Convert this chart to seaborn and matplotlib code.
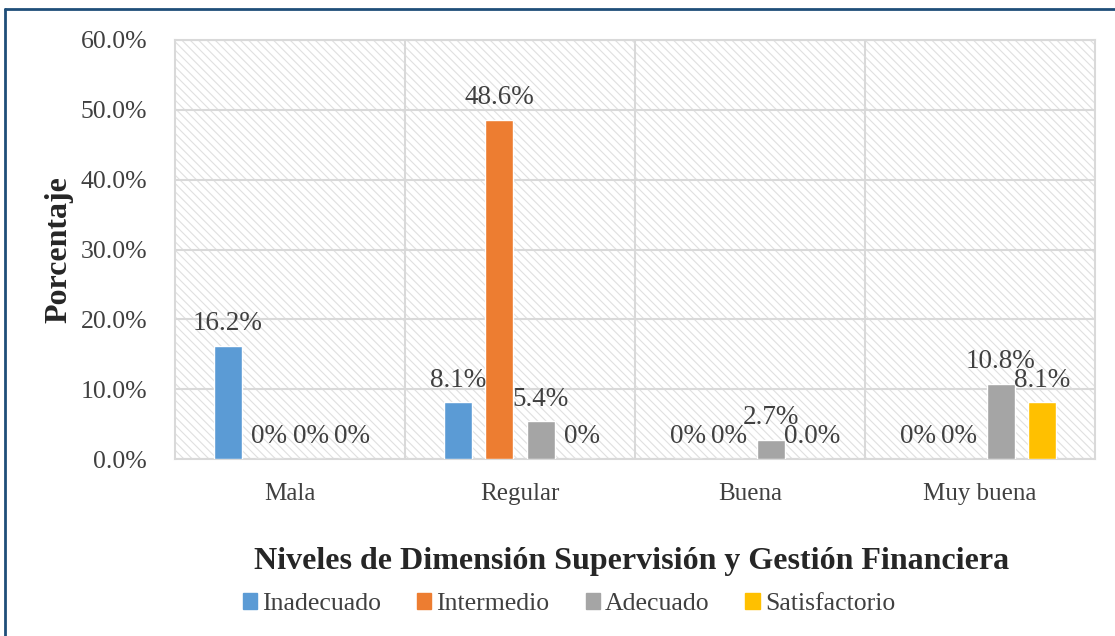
import pandas as pd
import matplotlib.pyplot as plt
import seaborn as sns
from matplotlib.patches import Rectangle
from matplotlib.lines import Line2D

# datos del grafico
niveles = ['Mala', 'Regular', 'Buena', 'Muy buena']
series = ['Inadecuado', 'Intermedio', 'Adecuado', 'Satisfactorio']
inadecuado = [16.2, 8.1, 0, 0]
intermedio = [0, 48.6, 0, 0]
adecuado = [0, 5.4, 2.7, 10.8]
satisfactorio = [0, 0, 0, 8.1]
etiquetas = [
    ['16.2%', '8.1%', '0%', '0%'],
    ['0%', '48.6%', '0%', '0%'],
    ['0%', '5.4%', '2.7%', '10.8%'],
    ['0%', '0%', '0.0%', '8.1%'],
]
colores = ['#5B9BD5', '#ED7D31', '#A5A5A5', '#FFC000']
y_ticks = [0, 10, 20, 30, 40, 50, 60]

valores = [inadecuado, intermedio, adecuado, satisfactorio]
data = pd.DataFrame({
    'nivel': [n for s in series for n in niveles],
    'serie': [s for s in series for n in niveles],
    'porcentaje': [v for vals in valores for v in vals],
})

sns.set_style('white')
plt.rcParams['font.family'] = ['Liberation Serif', 'DejaVu Serif']
plt.rcParams['hatch.linewidth'] = 0.8
texto = '#404040'
serif = {'family': 'Liberation Serif', 'size': 18.5}

fig = plt.figure(figsize=(11.15, 6.36), dpi=100)
ax = fig.add_axes([175 / 1115, 1 - 459 / 636, 920 / 1115, 419 / 636])

# fondo rayado
ax.add_patch(Rectangle((0, 0), 1, 1, transform=ax.transAxes, facecolor='white',
                       edgecolor='#E0E0E0', hatch='\\\\\\\\', linewidth=0, zorder=0.1))

sns.barplot(data=data, x='nivel', y='porcentaje', hue='serie', order=niveles,
            hue_order=series, palette=colores, width=0.72, gap=0.32,
            saturation=1, ax=ax, legend=False, zorder=3)

for cont, labs in zip(ax.containers, etiquetas):
    ax.bar_label(cont, labels=labs, padding=7, fontsize=19.5, color=texto)

ax.set_ylim(0, 60)
ax.set_yticks(y_ticks)
ax.set_yticklabels([f'{t:.1f}%' for t in y_ticks])
ax.set_xlim(-0.5, 3.5)
ax.set_axisbelow(True)
ax.grid(axis='y', color='#D9D9D9', linewidth=1.5)
ax.set_xticks([0.5, 1.5, 2.5], minor=True)
ax.grid(axis='x', which='minor', color='#D9D9D9', linewidth=1.5)
ax.grid(axis='x', which='major', visible=False)
ax.tick_params(axis='y', length=0, pad=20, labelsize=18.5, labelcolor=texto)
ax.tick_params(axis='x', which='both', length=0, pad=17, labelsize=18, labelcolor=texto)
for sp in ax.spines.values():
    sp.set_color('#D9D9D9')
    sp.set_linewidth(1.5)

ax.set_xlabel('')
ax.set_ylabel('Porcentaje', fontsize=23, fontweight='bold', color='#262626', labelpad=5)
fig.text(632 / 1115, 1 - 561 / 636, 'Niveles de Dimensión Supervisión y Gestión Financiera',
         ha='center', va='center', fontsize=23, fontweight='bold', color='#262626')

handles = [Rectangle((0, 0), 1, 1, color=c) for c in colores]
fig.legend(handles, series, loc='center', bbox_to_anchor=(569 / 1115, 1 - 604 / 636),
           ncol=4, frameon=False, prop=serif, handlelength=0.55, handleheight=0.55,
           handletextpad=0.2, columnspacing=1.4, labelcolor=texto)

# marco azul
fig.add_artist(Line2D([5 / 1115, 5 / 1115], [0, 1 - 9 / 636], color='#1F4E79', linewidth=2))
fig.add_artist(Line2D([5 / 1115, 1], [1 - 9 / 636, 1 - 9 / 636], color='#1F4E79', linewidth=2))

fig.savefig('out.png', dpi=100)
